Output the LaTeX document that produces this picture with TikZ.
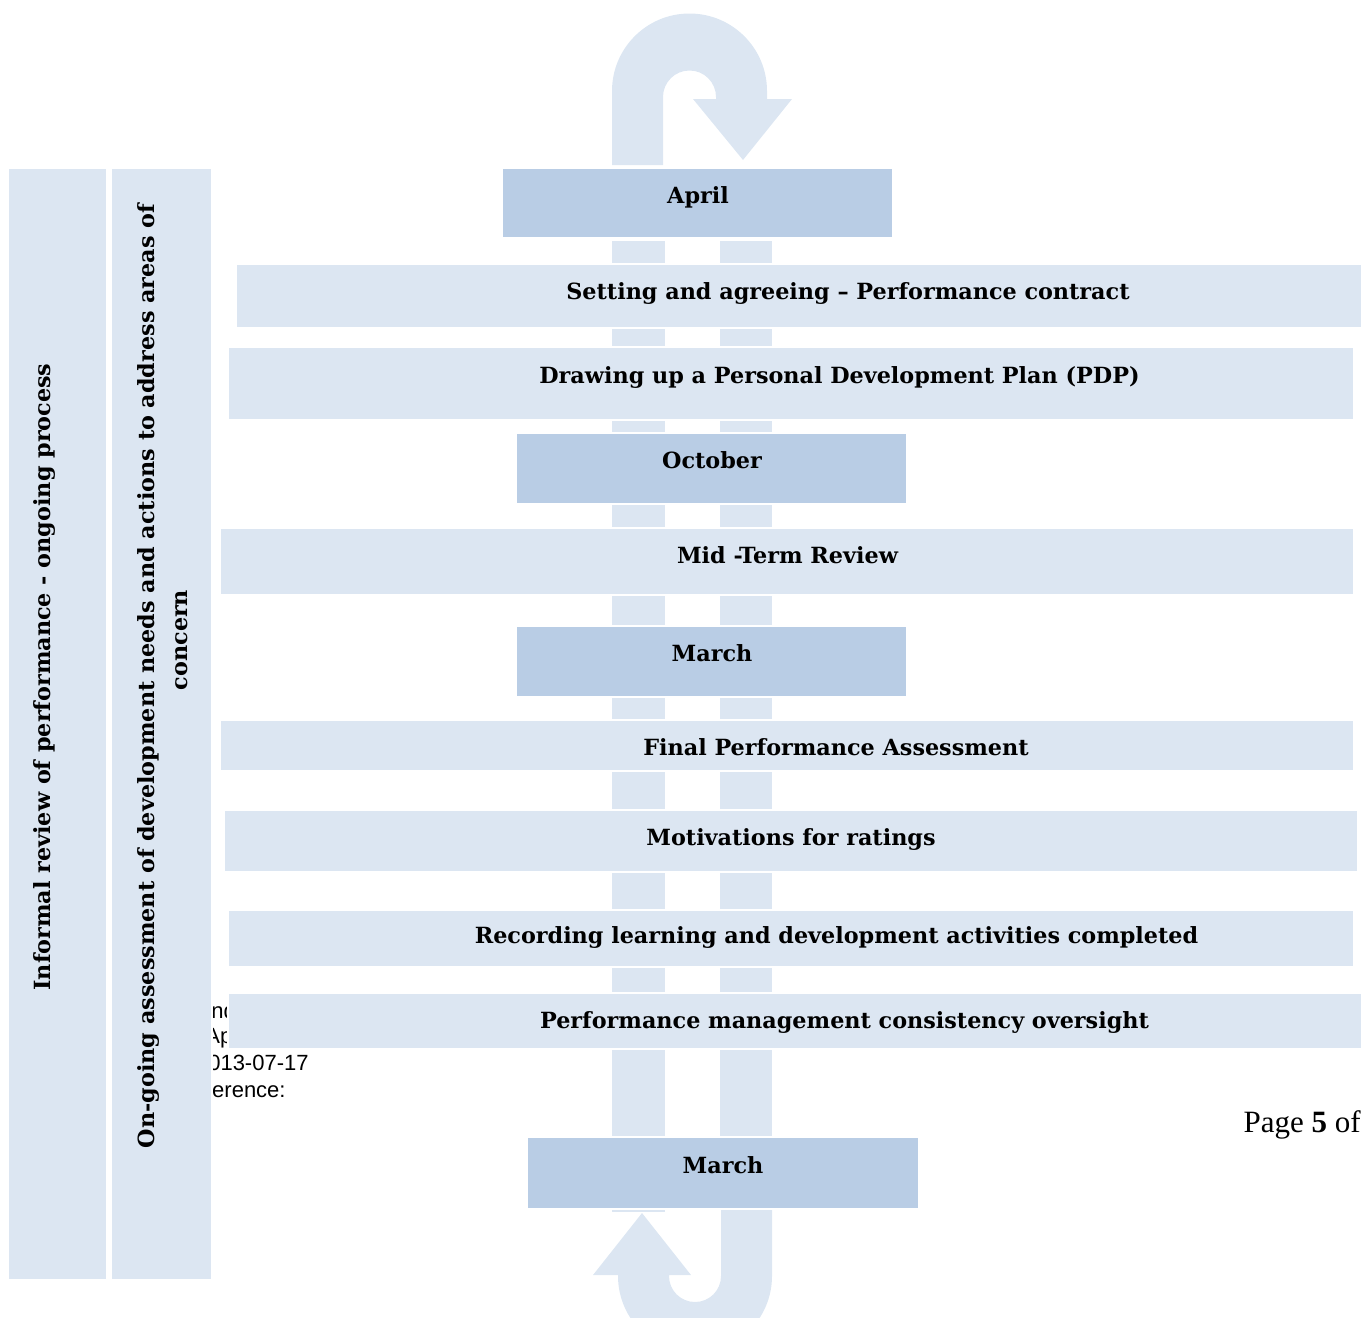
\documentclass[tikz,border=0pt]{standalone}
\usepackage{fontspec}
\setmainfont{DejaVu Serif}
\newfontfamily\footerfont{Liberation Sans}
\newfontfamily\pagefont{Liberation Serif}
\usetikzlibrary{positioning,fit}

\definecolor{paleblue}{HTML}{DCE6F2}
\definecolor{midblue}{HTML}{B9CDE5}

\tikzset{
  lightbox/.style={rectangle, fill=paleblue, draw=white, line width=0.7pt, inner sep=0pt},
  darkbox/.style={lightbox, fill=midblue},
  boxtext/.style={anchor=base, inner sep=0pt, font=\bfseries\fontsize{11.15}{13}\selectfont},
  sidetext/.style={rotate=90, align=center, inner sep=0pt, font=\bfseries\fontsize{11.15}{16.5}\selectfont},
  footer/.style={inner sep=0pt, font=\footerfont\fontsize{11}{13}\selectfont},
}

\begin{document}
\begin{tikzpicture}[x=0.5pt,y=-0.5pt]
  \useasboundingbox (0,0) rectangle (1364,1317);

  % footer of the page underneath, mostly hidden
  \node[footer, anchor=base west] (foot1) at (211,1018) {nd};
  \node[footer, anchor=base west] (foot2) at (205,1043) {Ap};
  \node[footer, anchor=base east] (foot3) at (309,1070) {2013-07-17};
  \node[footer, anchor=base east] (foot4) at (286,1097) {Reference:};

  % the two shafts behind the boxes
  \fill[paleblue] (612,241) rectangle (665,1212);
  \fill[paleblue] (720,241) rectangle (772,1209);

  % u-turn at the top
  \fill[paleblue] (612,165) -- (612,91) arc[start angle=180, end angle=360, radius=77.5]
    -- (767,99) -- (792,99) -- (743,160) -- (693,99) -- (716,99) -- (716,97)
    arc[start angle=0, end angle=-180, radius=26.5] -- (663,165) -- cycle;

  % u-turn at the bottom
  \begin{scope}
    \clip (0,0) rectangle (1364,1317);
    \fill[paleblue] (721,1209) -- (721,1276) arc[start angle=0, end angle=180, radius=26]
      -- (669,1275) -- (691,1275) -- (642,1213) -- (593,1275) -- (618,1275)
      -- (618,1276) arc[start angle=180, end angle=0, radius=77] -- (772,1209) -- cycle;
  \end{scope}

  % side columns
  \node[lightbox, fit={(8,168) (107,1280)}] (informal) {};
  \node[lightbox, fit={(111,168) (212,1280)}] (ongoing) {};
  \node[sidetext] (informal-t) at (45,677) {Informal review of performance - ongoing process};
  \node[sidetext] (ongoing-t) at (163,676)
    {On-going assessment of development needs and actions to address areas of\\
     \hspace*{36pt}concern};

  % cycle boxes
  \node[darkbox, fit={(502,168) (893,238)}] (april) {};
  \node[lightbox, fit={(236,264) (1362,328)}] (setting) {};
  \node[lightbox, fit={(228,347) (1354,420)}] (pdp) {};
  \node[darkbox, fit={(516,433) (907,504)}] (october) {};
  \node[lightbox, fit={(220,528) (1354,595)}] (midterm) {};
  \node[darkbox, fit={(516,626) (907,697)}] (march) {};
  \node[lightbox, fit={(220,720) (1354,771)}] (final) {};
  \node[lightbox, fit={(224,810) (1358,872)}] (ratings) {};
  \node[lightbox, fit={(228,910) (1354,967)}] (recording) {};
  \node[lightbox, fit={(228,993) (1362,1049)}] (oversight) {};
  \node[darkbox, fit={(527,1137) (919,1209)}] (endmarch) {};

  \node[boxtext] (april-t) at (698,203) {April};
  \node[boxtext] (setting-t) at (848,299) {Setting and agreeing – Performance contract};
  \node[boxtext] (pdp-t) at (839.5,383) {Drawing up a Personal Development Plan (PDP)};
  \node[boxtext] (october-t) at (712,468) {October};
  \node[boxtext] (midterm-t) at (787.5,563) {Mid -Term Review};
  \node[boxtext] (march-t) at (712,661) {March};
  \node[boxtext] (final-t) at (836,755) {Final Performance Assessment};
  \node[boxtext] (ratings-t) at (791,845) {Motivations for ratings};
  \node[boxtext] (recording-t) at (836.5,943) {Recording learning and development activities completed};
  \node[boxtext] (oversight-t) at (844.5,1028) {Performance management consistency oversight};
  \node[boxtext] (endmarch-t) at (723,1173) {March};

  \node[anchor=base east, inner sep=0pt, font=\pagefont\fontsize{15.5}{18}\selectfont] (page) at (1361,1132) {Page \textbf{5} of};
\end{tikzpicture}
\end{document}
